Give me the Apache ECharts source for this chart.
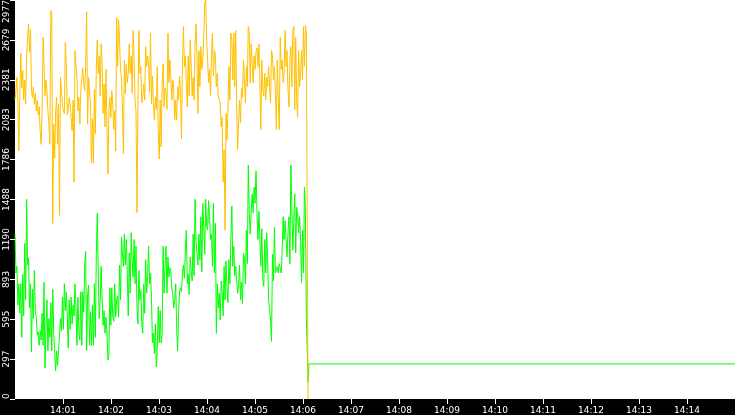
<!DOCTYPE html>
<html>
<head>
<meta charset="utf-8">
<script src="https://cdn.jsdelivr.net/npm/echarts@6/dist/echarts.min.js"></script>
<style>
html, body { margin: 0; padding: 0; background: #000; }
#main { width: 735px; height: 415px; }
</style>
</head>
<body>
<div id="main"></div>
<script>
// samples every ~1.21 s starting at 14:00:00 (x values are seconds after 14:00)
const sampleStep = 1.21

const orange = [
  2231, 2225, 2400, 2180, 1850, 2290, 2580, 2320, 2450, 2230,
  2380, 2200, 2560, 2700, 2800, 2590, 2760, 2300, 2250, 2330,
  2200, 2280, 2150, 2230, 2120, 2180, 2000, 1900, 2150, 2700,
  2500, 2260, 2380, 2300, 2150, 2050, 1900, 2900, 2870, 1310,
  2050, 1800, 2150, 2250, 1900, 2200, 1370, 2400, 2300, 2200,
  2150, 2130, 2660, 2500, 2120, 2150, 2250, 2200, 2100, 2000,
  2230, 1620, 2600, 2480, 2400, 2150, 2250, 2050, 2300, 2400,
  2470, 2350, 2300, 2480, 2890, 2050, 2400, 2300, 2200, 1760,
  2090, 1760, 2310, 1980, 2460, 2680, 2430, 2560, 2260, 2650,
  2530, 2130, 2350, 2030, 2460, 2030, 1680, 2150, 2250, 2100,
  2300, 2200, 2010, 2150, 1850, 2850, 2480, 2830, 2680, 2460,
  2400, 2160, 1830, 2530, 2280, 2500, 2360, 2430, 2650, 2430,
  2560, 2280, 2750, 2530, 2230, 2150, 1390, 2180, 2750, 2430,
  2480, 2210, 2260, 2350, 2230, 2630, 2480, 2560, 2500, 2290,
  2730, 2200, 2410, 2200, 2080, 2250, 2160, 2480, 2010, 1790,
  2230, 1880, 2350, 2500, 2180, 2320,
  2280, 2160, 2730, 2360, 2530, 2400, 2230, 2380, 2310, 2080,
  2230, 2080, 2330, 2230, 2410, 2280, 1940, 2500, 2780, 2480,
  2560, 2350, 2180, 2560, 2260, 2680, 2480, 2260, 2400, 2230,
  2650, 2800, 2580, 2130, 2600, 2330, 2630, 2460, 2530, 2700,
  2960, 2977, 2680, 2530, 2360, 2460, 2260, 2580, 2730, 2410,
  2600, 2560, 2330, 2430, 2260, 2230, 2210, 2030, 2100, 1620,
  1860, 1260, 2130, 1930, 2160, 2480, 2230, 2730, 2680, 2380,
  2730, 2330, 2750, 2200, 1860, 2050,
  2230, 2060, 2320, 2250, 2530, 2380, 2210, 2480, 2330, 2780,
  2730, 2360, 2650, 2500, 2360, 2560, 2460, 2600, 2620, 2480,
  2650, 2360, 2010, 2530, 2310, 2260, 2430, 2230, 2400, 2330,
  2480, 2330, 2210, 2600, 2560, 2380, 2480, 2280, 2010, 2530,
  2230, 2010, 2700, 2460, 2530, 2360, 2430, 2750, 2480, 2600,
  2310, 2180, 2530, 2630, 2330, 2750, 2780, 2160, 2700, 2230,
  2100, 2600, 2330, 2430, 2600, 2380, 2780, 2480, 2790, 2730
]

const green = [
  1230, 940, 990, 700, 860, 640, 860, 460, 930, 620,
  1160, 740, 1490, 1000, 1050, 680, 860, 350, 820, 600,
  960, 650, 610, 480, 500, 400, 510, 440, 640, 400,
  870, 230, 540, 740, 360, 600, 460, 720, 360, 820,
  500, 510, 210, 360, 250, 360, 480, 600, 510, 760,
  520, 860, 660, 800, 620, 380, 740, 520, 760, 560,
  700, 620, 860, 680, 400, 760, 500, 440, 800, 400,
  800, 650, 1000, 1100, 360, 780, 850, 400, 650, 400,
  700, 400, 860, 460, 1070, 1386, 950, 600, 740, 990,
  740, 550, 660, 490, 610, 500, 290, 320, 830, 550,
  830, 610, 580, 860, 610, 740, 770, 610, 1000, 740,
  1210, 1090, 990, 1230, 1000, 1190, 940, 620, 1090, 790,
  1240, 1040, 910, 1190, 860, 1140, 690, 560, 960, 740,
  810, 560, 490, 860, 640, 1040, 790, 910, 1140, 860,
  940, 740, 420, 490, 340, 560, 240, 370, 690, 420,
  660, 420, 490, 1140, 790, 1000,
  1140, 790, 1060, 910, 980, 960, 820, 780, 680, 740,
  860, 540, 360, 640, 800, 830, 800, 940, 1000, 900,
  1110, 1260, 860, 930, 780, 1060, 960, 880, 1230, 920,
  1490, 1170, 1090, 1000, 1230, 1040, 1360, 950, 1460, 1280,
  1080, 1490, 1290, 1260, 1480, 1360, 1190, 1230, 990, 1460,
  940, 1310, 490, 860, 680, 790, 590, 880, 790, 620,
  990, 740, 1030, 840, 720, 1040, 860, 1200, 1440, 990,
  1140, 920, 990, 890, 790, 860,
  1000, 740, 870, 710, 1090, 1050, 860, 1260, 1010, 1746,
  1390, 1230, 1400, 1530, 1390, 1580, 1460, 1700, 1390, 1190,
  1400, 1190, 990, 1270, 890, 840, 1190, 940, 1240, 1040,
  740, 740, 590, 430, 1080, 880, 1280, 940, 960, 990,
  940, 1010, 1000, 940, 1110, 1360, 1190, 1330, 1190, 1060,
  1240, 1360, 1010, 1746, 1430, 1110, 1330, 1530, 1090, 1430,
  1380, 1240, 1360, 1190, 870, 1260, 940, 1580, 1420, 600
]

// after the reset at 14:06 (seconds, value)
const orangeTail = [[366.3, 0]]
const greenTail = [[366.4, 127], [367.5, 262], [900, 262]]

const yMax = 2977
const yStep = 297.7

function withTime(values, tail) {
  return values.map((v, i) => [i * sampleStep, v]).concat(tail)
}

function clock(sec) {
  const m = Math.round(sec / 60)
  return '14:' + (m < 10 ? '0' + m : m)
}

const myChart = echarts.init(document.getElementById('main'))

myChart.setOption({
  backgroundColor: '#000',
  animation: false,
  grid: {
    left: 15, right: 0, top: 0, bottom: 16,
    outerBoundsMode: 'none',
    show: true, backgroundColor: '#fff', borderWidth: 0
  },
  xAxis: {
    type: 'value',
    min: 0,
    max: 900,
    interval: 60,
    axisLine: { show: false },
    axisTick: { show: true, length: 5, lineStyle: { color: '#fff', width: 1 } },
    splitLine: { show: false },
    axisLabel: {
      color: '#fff',
      fontFamily: 'DejaVu Sans',
      fontSize: 9,
      margin: 7,
      showMinLabel: false,
      showMaxLabel: false,
      formatter: clock
    }
  },
  yAxis: {
    type: 'value',
    min: 0,
    max: yMax,
    interval: yStep,
    axisLine: { show: false },
    axisTick: { show: true, length: 5, lineStyle: { color: '#fff', width: 1 } },
    splitLine: { show: false },
    axisLabel: {
      color: '#fff',
      fontFamily: 'DejaVu Sans',
      fontSize: 9,
      rotate: 90,
      margin: 4,
      alignMinLabel: 'left',
      alignMaxLabel: 'right',
      formatter: v => String(Math.floor(v + 1e-6))
    }
  },
  series: [
    {
      type: 'line',
      data: withTime(green, greenTail),
      step: 'end',
      showSymbol: false,
      lineStyle: { color: '#00ff00', width: 1 }
    },
    {
      type: 'line',
      data: withTime(orange, orangeTail),
      step: 'end',
      showSymbol: false,
      lineStyle: { color: '#ffc000', width: 1 }
    }
  ]
})
</script>
</body>
</html>
